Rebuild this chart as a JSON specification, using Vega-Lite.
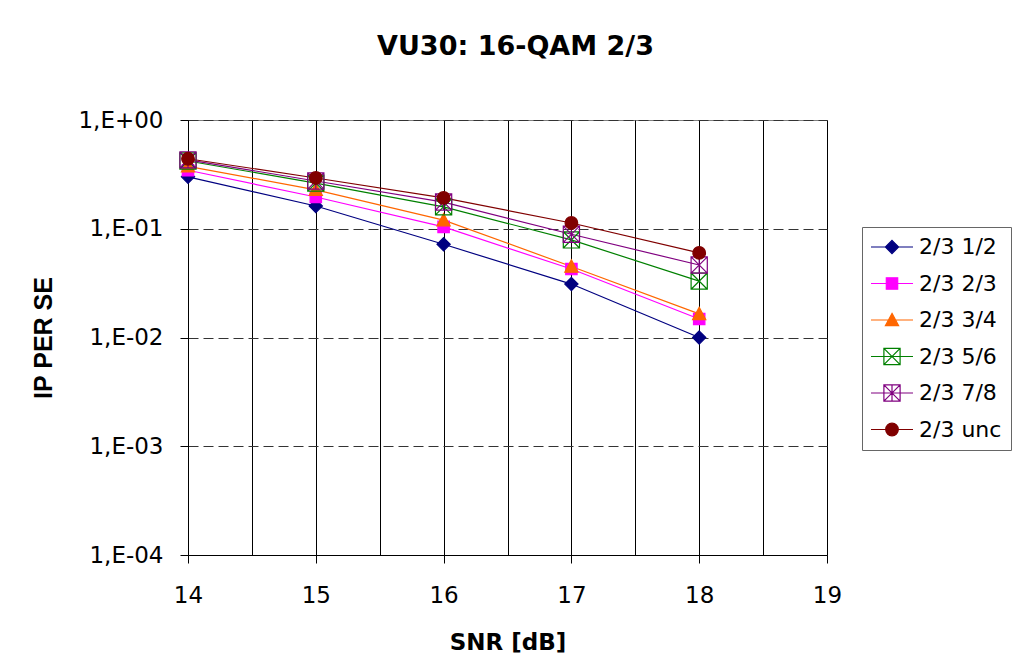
{
  "$schema": "https://vega.github.io/schema/vega-lite/v6.json",
  "width": 639,
  "height": 435,
  "autosize": {"type": "none"},
  "padding": {"left": 188, "top": 120, "right": 185, "bottom": 116},
  "background": "white",
  "config": {"view": {"stroke": "#808080", "strokeWidth": 1}},
  "title": {"text": "VU30: 16-QAM 2/3", "font": "DejaVu Sans", "fontSize": 27, "fontWeight": "bold", "anchor": "middle", "frame": "group", "dx": 8, "offset": 48, "color": "black"},
  "data": {"values": [
    {"series": "2/3 1/2", "snr": 14, "ber": 0.30},
    {"series": "2/3 1/2", "snr": 15, "ber": 0.162},
    {"series": "2/3 1/2", "snr": 16, "ber": 0.072},
    {"series": "2/3 1/2", "snr": 17, "ber": 0.031},
    {"series": "2/3 1/2", "snr": 18, "ber": 0.0100},
    {"series": "2/3 2/3", "snr": 14, "ber": 0.345},
    {"series": "2/3 2/3", "snr": 15, "ber": 0.196},
    {"series": "2/3 2/3", "snr": 16, "ber": 0.104},
    {"series": "2/3 2/3", "snr": 17, "ber": 0.0426},
    {"series": "2/3 2/3", "snr": 18, "ber": 0.0148},
    {"series": "2/3 3/4", "snr": 14, "ber": 0.375},
    {"series": "2/3 3/4", "snr": 15, "ber": 0.228},
    {"series": "2/3 3/4", "snr": 16, "ber": 0.120},
    {"series": "2/3 3/4", "snr": 17, "ber": 0.045},
    {"series": "2/3 3/4", "snr": 18, "ber": 0.0165},
    {"series": "2/3 5/6", "snr": 14, "ber": 0.42},
    {"series": "2/3 5/6", "snr": 15, "ber": 0.263},
    {"series": "2/3 5/6", "snr": 16, "ber": 0.159},
    {"series": "2/3 5/6", "snr": 17, "ber": 0.079},
    {"series": "2/3 5/6", "snr": 18, "ber": 0.033},
    {"series": "2/3 7/8", "snr": 14, "ber": 0.43},
    {"series": "2/3 7/8", "snr": 15, "ber": 0.275},
    {"series": "2/3 7/8", "snr": 16, "ber": 0.176},
    {"series": "2/3 7/8", "snr": 17, "ber": 0.089},
    {"series": "2/3 7/8", "snr": 18, "ber": 0.0464},
    {"series": "2/3 unc", "snr": 14, "ber": 0.44},
    {"series": "2/3 unc", "snr": 15, "ber": 0.293},
    {"series": "2/3 unc", "snr": 16, "ber": 0.192},
    {"series": "2/3 unc", "snr": 17, "ber": 0.113},
    {"series": "2/3 unc", "snr": 18, "ber": 0.060}
  ]},
  "encoding": {
    "x": {"field": "snr", "type": "quantitative",
      "scale": {"domain": [14, 19], "nice": false, "zero": false},
      "axis": {"values": [14, 14.5, 15, 15.5, 16, 16.5, 17, 17.5, 18, 18.5, 19],
        "labelExpr": "datum.value % 1 === 0 ? format(datum.value, 'd') : ''",
        "grid": true, "gridColor": "black", "gridWidth": 1, "gridOpacity": 1,
        "tickColor": "black", "tickSize": 8, "tickWidth": 1,
        "tickOpacity": {"condition": {"test": "datum.value % 1 === 0", "value": 1}, "value": 0},
        "domainColor": "black", "domainWidth": 1,
        "labelFont": "DejaVu Sans", "labelFontSize": 23, "labelColor": "black", "labelPadding": 21,
        "labelFlush": false, "labelOverlap": false,
        "title": "SNR [dB]", "titleFont": "DejaVu Sans", "titleFontSize": 23, "titleFontWeight": "bold", "titleColor": "black", "titlePadding": 24}},
    "y": {"field": "ber", "type": "quantitative",
      "scale": {"type": "log", "domain": [0.0001, 1], "nice": false},
      "axis": {"values": [0.0001, 0.001, 0.01, 0.1, 1],
        "labelExpr": "'1,E' + (datum.value >= 1 ? '+00' : '-0' + round(-log(datum.value) / LN10))",
        "grid": true, "gridColor": "#333333", "gridDash": [10, 5], "gridWidth": 1,
        "tickColor": "black", "tickSize": 8, "tickWidth": 1,
        "domainColor": "black", "domainWidth": 1,
        "labelFont": "DejaVu Sans", "labelFontSize": 23, "labelColor": "black", "labelPadding": 17,
        "labelFlush": false, "labelOverlap": false,
        "title": "IP PER SE", "titleFont": "Liberation Sans", "titleFontSize": 25, "titleFontWeight": "bold", "titleColor": "black", "titlePadding": 21}}
  },
  "layer": [
    {"mark": {"type": "line", "strokeWidth": 1.2},
      "encoding": {
        "stroke": {"field": "series", "type": "nominal",
          "scale": {"domain": ["2/3 1/2", "2/3 2/3", "2/3 3/4", "2/3 5/6", "2/3 7/8", "2/3 unc"], "range": ["#000080", "#FF00FF", "#FF6600", "#008000", "#800080", "#800000"]},
          "legend": null}
      }},
    {"mark": {"type": "point", "filled": true, "size": 144, "strokeWidth": 1.2, "opacity": 1},
      "encoding": {
        "stroke": {"field": "series", "type": "nominal",
          "scale": {"domain": ["2/3 1/2", "2/3 2/3", "2/3 3/4", "2/3 5/6", "2/3 7/8", "2/3 unc"], "range": ["#000080", "#FF00FF", "#FF6600", "#008000", "#800080", "#800000"]},
          "legend": null},
        "fill": {"field": "series", "type": "nominal",
          "scale": {"domain": ["2/3 1/2", "2/3 2/3", "2/3 3/4", "2/3 5/6", "2/3 7/8", "2/3 unc"], "range": ["#000080", "#FF00FF", "#FF6600", "transparent", "transparent", "#800000"]},
          "legend": null},
        "shape": {"field": "series", "type": "nominal",
          "scale": {"domain": ["2/3 1/2", "2/3 2/3", "2/3 3/4", "2/3 5/6", "2/3 7/8", "2/3 unc"],
            "range": [
              "M0,-1.1L1.1,0L0,1.1L-1.1,0Z",
              "M-0.95,-0.95H0.95V0.95H-0.95Z",
              "M0,-1.1L1.1,0.95H-1.1Z",
              "M-1.35,-1.35H1.35V1.35H-1.35ZM-1.35,-1.35L1.35,1.35M1.35,-1.35L-1.35,1.35",
              "M-1.35,-1.35H1.35V1.35H-1.35ZM-1.35,-1.35L1.35,1.35M1.35,-1.35L-1.35,1.35M0,-1.35V1.35",
              "M-1.05,0A1.05,1.05 0 1,0 1.05,0A1.05,1.05 0 1,0 -1.05,0Z"
            ]},
          "legend": null}
      }},
    {"mark": {"type": "point", "filled": true, "size": 144, "strokeWidth": 1.2, "opacity": 0},
      "encoding": {
        "stroke": {"field": "series", "type": "nominal",
          "scale": {"domain": ["2/3 1/2", "2/3 2/3", "2/3 3/4", "2/3 5/6", "2/3 7/8", "2/3 unc"], "range": ["#000080", "#FF00FF", "#FF6600", "#008000", "#800080", "#800000"]},
          "legend": {"title": null, "orient": "none", "legendX": 674, "legendY": 107, "padding": 9, "strokeColor": "#666666", "fillColor": "white", "labelFont": "DejaVu Sans", "labelFontSize": 22, "labelColor": "black", "symbolSize": 144, "symbolOffset": 10, "labelOffset": 16, "rowPadding": 14.5, "symbolStrokeWidth": 1.2, "symbolOpacity": 1, "labelLimit": 300}},
        "fill": {"field": "series", "type": "nominal",
          "scale": {"domain": ["2/3 1/2", "2/3 2/3", "2/3 3/4", "2/3 5/6", "2/3 7/8", "2/3 unc"], "range": ["#000080", "#FF00FF", "#FF6600", "transparent", "transparent", "#800000"]},
          "legend": {"title": null, "orient": "none", "legendX": 674, "legendY": 107, "padding": 9, "strokeColor": "#666666", "fillColor": "white", "labelFont": "DejaVu Sans", "labelFontSize": 22, "labelColor": "black", "symbolSize": 144, "symbolOffset": 10, "labelOffset": 16, "rowPadding": 14.5, "symbolStrokeWidth": 1.2, "symbolOpacity": 1, "labelLimit": 300}},
        "shape": {"field": "series", "type": "nominal",
          "scale": {"domain": ["2/3 1/2", "2/3 2/3", "2/3 3/4", "2/3 5/6", "2/3 7/8", "2/3 unc"],
            "range": [
              "M-3.5,0H3.5M0,-1.1L1.1,0L0,1.1L-1.1,0Z",
              "M-3.5,0H3.5M-0.95,-0.95H0.95V0.95H-0.95Z",
              "M-3.5,0H3.5M0,-1.1L1.1,0.95H-1.1Z",
              "M-3.5,0H3.5M-1.35,-1.35H1.35V1.35H-1.35ZM-1.35,-1.35L1.35,1.35M1.35,-1.35L-1.35,1.35",
              "M-3.5,0H3.5M-1.35,-1.35H1.35V1.35H-1.35ZM-1.35,-1.35L1.35,1.35M1.35,-1.35L-1.35,1.35M0,-1.35V1.35",
              "M-3.5,0H3.5M-1.05,0A1.05,1.05 0 1,0 1.05,0A1.05,1.05 0 1,0 -1.05,0Z"
            ]},
          "legend": {"title": null, "orient": "none", "legendX": 674, "legendY": 107, "padding": 9, "strokeColor": "#666666", "fillColor": "white", "labelFont": "DejaVu Sans", "labelFontSize": 22, "labelColor": "black", "symbolSize": 144, "symbolOffset": 10, "labelOffset": 16, "rowPadding": 14.5, "symbolStrokeWidth": 1.2, "symbolOpacity": 1, "labelLimit": 300}}
      }}
  ],
  "resolve": {"scale": {"shape": "independent", "stroke": "independent", "fill": "independent"}}
}
